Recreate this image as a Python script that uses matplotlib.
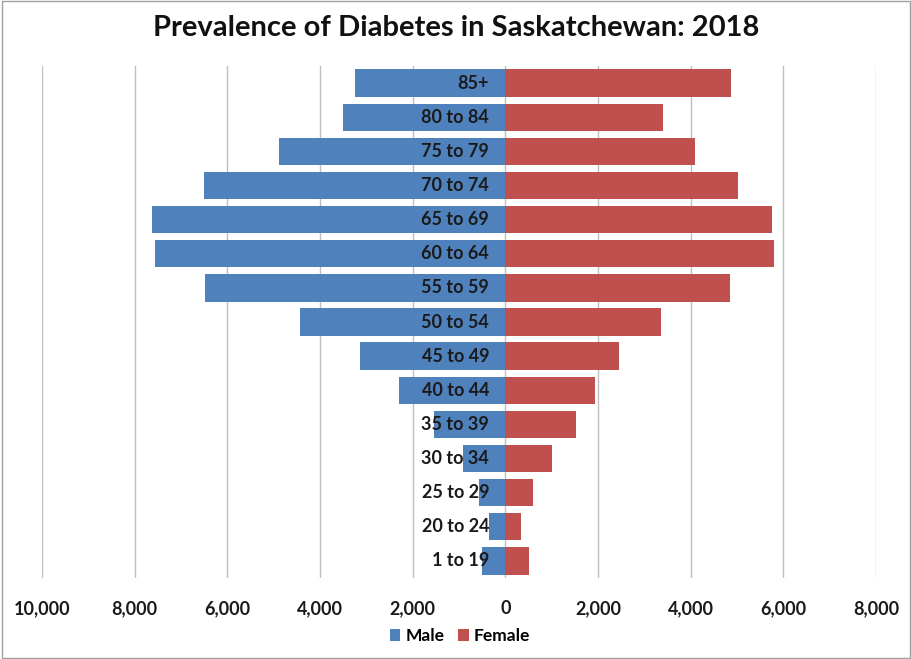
import matplotlib
matplotlib.use("Agg")
import matplotlib.pyplot as plt
import numpy as np

# age groups, bottom to top
ages = ['1 to 19', '20 to 24', '25 to 29', '30 to 34', '35 to 39', '40 to 44',
        '45 to 49', '50 to 54', '55 to 59', '60 to 64', '65 to 69', '70 to 74',
        '75 to 79', '80 to 84', '85+']
male = [500, 345, 560, 910, 1550, 2290, 3130, 4430, 6480, 7560, 7620, 6500,
        4880, 3500, 3240]
female = [520, 345, 605, 1015, 1530, 1945, 2460, 3350, 4840, 5790, 5745, 5030,
          4100, 3410, 4860]
xticks = [-10000, -8000, -6000, -4000, -2000, 0, 2000, 4000, 6000, 8000]
xlabels = ['10,000', '8,000', '6,000', '4,000', '2,000', '0', '2,000', '4,000',
           '6,000', '8,000']

plt.rcParams['font.family'] = ['Lato', 'DejaVu Sans']

fig = plt.figure(figsize=(9.12, 6.59), dpi=100)
ax = fig.add_axes([42/912, 1-578/659, (876-42)/912, (578-66)/659])

y = np.arange(len(ages))
ax.barh(y, [-m for m in male], height=0.8, color='#4F81BD', label='Male', zorder=2)
ax.barh(y, female, height=0.8, color='#C0504D', label='Female', zorder=2)

for i, a in enumerate(ages):
    ax.text(-350, i, a, ha='right', va='center', fontsize=13,
            fontweight='bold', color='#1a1a1a', zorder=3)

ax.set_xlim(-10000, 8000)
ax.set_ylim(-0.5, len(ages) - 0.5)
ax.set_xticks(xticks)
ax.set_xticklabels(xlabels, fontsize=13, fontweight='bold', color='#1a1a1a')
ax.set_yticks([])
ax.tick_params(axis='x', length=0, pad=16)
ax.grid(axis='x', color='#bfbfbf', linewidth=1, zorder=0)
for s in ax.spines.values():
    s.set_visible(False)

fig.suptitle('Prevalence of Diabetes in Saskatchewan: 2018', y=0.977,
             fontsize=21, fontweight='bold', color='#111111')

fig.legend(loc='center', bbox_to_anchor=(460/912, 1-636/659), ncol=2,
           frameon=False, handlelength=0.6, handleheight=0.7, handletextpad=0.3,
           columnspacing=0.8, prop={'size': 12.5, 'weight': 'bold'})

border = plt.Rectangle((0.002, 0.002), 0.996, 0.996, transform=fig.transFigure,
                       fill=False, edgecolor='#a0a0a0', linewidth=1)
fig.patches.append(border)

fig.savefig('out.png', dpi=100)
